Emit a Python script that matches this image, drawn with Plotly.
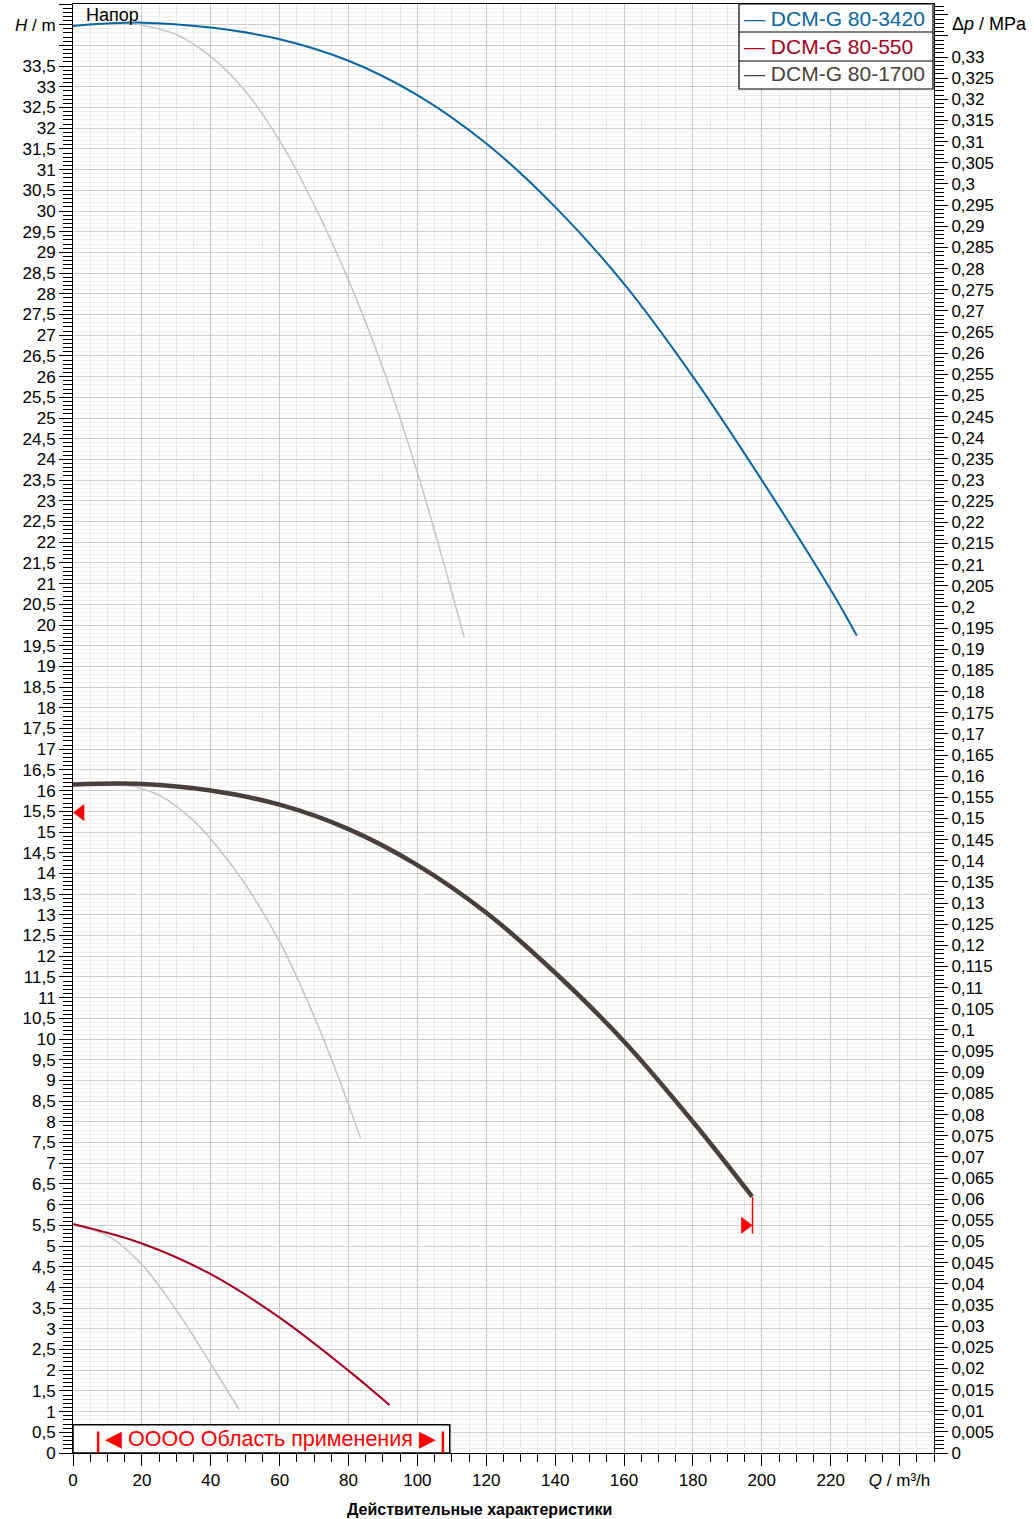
import plotly.graph_objects as go

# ---------------- data ----------------
# DCM-G 80-3420 (blue)
q_3420 = [0, 20, 40, 60, 80, 100, 120, 140, 160, 180, 200, 220, 227.6]
h_3420 = [34.47, 34.55, 34.43, 34.15, 33.63, 32.8, 31.63, 30.1, 28.24, 26.0, 23.5, 20.85, 19.74]
# grey companion of 80-3420
q_3420g = [19.4, 30, 40, 50, 60, 70, 80, 90, 100, 108.3, 113.6]
h_3420g = [34.5, 34.26, 33.73, 32.9, 31.7, 30.15, 28.33, 26.2, 23.68, 21.3, 19.7]

# DCM-G 80-1700 (brown, thick)
q_1700 = [0, 20, 40, 60, 80, 100, 120, 140, 160, 180, 197.2]
h_1700 = [16.15, 16.16, 16.0, 15.66, 15.07, 14.2, 13.05, 11.6, 9.94, 8.0, 6.19]
q_1700g = [15.6, 25.2, 34.9, 41.7, 50, 60, 70, 77.5, 83.5]
h_1700g = [16.14, 15.88, 15.28, 14.66, 13.74, 12.35, 10.55, 8.98, 7.6]

# DCM-G 80-550 (red)
q_550 = [0, 20, 40, 60, 80, 91.9]
h_550 = [5.53, 5.06, 4.32, 3.27, 1.99, 1.16]
q_550g = [0, 10, 20, 30, 40, 48.2]
h_550g = [5.51, 5.25, 4.55, 3.45, 2.15, 1.05]

# operating-point markers
q_mark_left, h_mark_left = [2.2], [15.47]
q_mark_right, h_mark_right = [195.1], [5.5]
q_duty_line, h_duty_line = [197.3, 197.3], [6.18, 5.3]

# application range
app_q_min, app_q_max = 7.3, 107.4
app_box_q, app_box_h = 109.4, 0.68

# axes
x_ticks = list(range(0, 241, 20))
x_ticktext = [str(v) for v in x_ticks[:-1]] + ["<i>Q</i> / m³/h"]
h_ticks = [i * 0.5 for i in range(71)]
MPA_PER_M = 0.009787
p_ticks = [round(i * 0.005, 3) for i in range(69)]

names = ["DCM-G 80-3420", "DCM-G 80-550", "DCM-G 80-1700"]
C_BLUE, C_RED, C_BROWN, C_GREY = "#0a66a0", "#a50021", "#4a3f3a", "#c4c4c4"


def fmt(v, nd):
    s = f"{v:.{nd}f}".rstrip("0").rstrip(".")
    return s.replace(".", ",")


h_ticktext = []
for v in h_ticks:
    if abs(v - 34.5) < 1e-9:
        h_ticktext.append("<i>H</i> / m")
    elif v > 33.6:
        h_ticktext.append("")
    else:
        h_ticktext.append(fmt(v, 1))
p_ticktext = [fmt(v, 3) if v < 0.3325 else "" for v in p_ticks]

FONT = "Liberation Sans, Arial, sans-serif"

fig = go.Figure()

grey_line = dict(color=C_GREY, width=1.5)
for qq, hh in ((q_3420g, h_3420g), (q_1700g, h_1700g), (q_550g, h_550g)):
    fig.add_trace(go.Scatter(x=qq, y=hh, mode="lines", line=dict(shape="spline", smoothing=1.0, **grey_line),
                             showlegend=False, hoverinfo="skip"))

fig.add_trace(go.Scatter(x=q_3420, y=h_3420, mode="lines", name=names[0],
                         line=dict(color=C_BLUE, width=2, shape="spline", smoothing=1.0), showlegend=False))
fig.add_trace(go.Scatter(x=q_550, y=h_550, mode="lines", name=names[1],
                         line=dict(color=C_RED, width=2, shape="spline", smoothing=1.0), showlegend=False))
fig.add_trace(go.Scatter(x=q_1700, y=h_1700, mode="lines", name=names[2],
                         line=dict(color=C_BROWN, width=4.5, shape="spline", smoothing=1.0), showlegend=False))

fig.add_trace(go.Scatter(x=q_duty_line, y=h_duty_line, mode="lines",
                         line=dict(color="#ff0000", width=1.5), showlegend=False, hoverinfo="skip"))
fig.add_trace(go.Scatter(x=q_mark_left, y=h_mark_left, mode="markers",
                         marker=dict(symbol="triangle-left", size=15, color="#ff0000"),
                         showlegend=False, cliponaxis=False))
fig.add_trace(go.Scatter(x=q_mark_right, y=h_mark_right, mode="markers",
                         marker=dict(symbol="triangle-right", size=15, color="#ff0000"),
                         showlegend=False))

# dummy trace for right axis
fig.add_trace(go.Scatter(x=[0], y=[0], yaxis="y2", mode="markers", marker=dict(opacity=0),
                         showlegend=False, hoverinfo="skip"))

shapes = []
# application range box
shapes.append(dict(type="rect", xref="x", yref="y", x0=0, x1=app_box_q, y0=0, y1=app_box_h,
                   fillcolor="white", line=dict(color="black", width=1.5), layer="above"))
for qv in (app_q_min, app_q_max):
    shapes.append(dict(type="line", xref="x", yref="y", x0=qv, x1=qv, y0=0, y1=0.52,
                       line=dict(color="#ff0000", width=2.5), layer="above"))


def px_x(px):
    return (px - 73) / 861.0


def px_y(py):
    return (1453 - py) / 1449.0


# custom legend
shapes.append(dict(type="rect", xref="paper", yref="paper", x0=px_x(739), x1=px_x(933),
                   y0=px_y(89), y1=px_y(4), fillcolor="white",
                   line=dict(color="black", width=1.2), layer="above"))
for sep in (32, 61):
    shapes.append(dict(type="line", xref="paper", yref="paper", x0=px_x(739), x1=px_x(933),
                       y0=px_y(sep), y1=px_y(sep), line=dict(color="black", width=1.2), layer="above"))

annotations = []
for name, col, cy in zip(names, [C_BLUE, C_RED, C_BROWN], [18, 46, 74]):
    annotations.append(dict(xref="paper", yref="paper", x=px_x(742), y=px_y(cy),
                            xanchor="left", yanchor="middle", showarrow=False,
                            text="— " + name, font=dict(size=21, color=col, family=FONT)))

annotations.append(dict(xref="paper", yref="paper", x=px_x(84), y=px_y(15), xanchor="left",
                        yanchor="middle", showarrow=False, text="Напор",
                        font=dict(size=18, color="black", family=FONT)))
annotations.append(dict(xref="paper", yref="paper", x=px_x(950), y=px_y(24), xanchor="left",
                        yanchor="middle", showarrow=False, text="Δ<i>p</i> / MPa",
                        font=dict(size=18, color="black", family=FONT)))
annotations.append(dict(xref="paper", yref="paper", x=px_x(479), y=px_y(1509), xanchor="center",
                        yanchor="middle", showarrow=False, text="<b>Действительные характеристики</b>",
                        font=dict(size=16, color="black", family=FONT)))
annotations.append(dict(xref="x", yref="y", x=(app_q_min + app_q_max) / 2, y=0.34,
                        xanchor="center", yanchor="middle", showarrow=False,
                        text="◀ OOOO Область применения ▶",
                        font=dict(size=21.5, color="#ff0000", family=FONT)))

fig.update_layout(
    width=1034, height=1519, autosize=False,
    margin=dict(l=73, r=100, t=4, b=66),
    paper_bgcolor="white", plot_bgcolor="white",
    font=dict(family=FONT, size=17, color="black"),
    showlegend=False,
    shapes=shapes, annotations=annotations,
    xaxis=dict(
        range=[0, 250], tickmode="array", tickvals=x_ticks, ticktext=x_ticktext,
        ticks="outside", ticklen=12, tickcolor="black", tickwidth=1,
        showline=True, linecolor="black", linewidth=1, mirror=True,
        showgrid=True, gridcolor="#c6c6c6", gridwidth=1, zeroline=False,
        tickfont=dict(size=17),
        minor=dict(tickmode="linear", tick0=0, dtick=5, ticks="outside", ticklen=8,
                   tickcolor="black", showgrid=True, gridcolor="#e8e8e8", gridwidth=1),
    ),
    yaxis=dict(
        range=[0, 35], tickmode="array", tickvals=h_ticks, ticktext=h_ticktext,
        ticks="outside", ticklen=13, tickcolor="black", tickwidth=1,
        showline=True, linecolor="black", linewidth=1,
        showgrid=True, gridcolor="#cdcdcd", gridwidth=1, zeroline=False,
        tickfont=dict(size=17),
        minor=dict(tickmode="linear", tick0=0, dtick=0.1, ticks="outside", ticklen=9,
                   tickcolor="black", showgrid=True, gridcolor="#f0efed", gridwidth=1),
    ),
    yaxis2=dict(
        overlaying="y", side="right", range=[0, 35 * MPA_PER_M],
        tickmode="array", tickvals=p_ticks, ticktext=p_ticktext,
        ticks="outside", ticklen=13, tickcolor="black", tickwidth=1,
        showline=True, linecolor="black", linewidth=1,
        showgrid=False, zeroline=False, tickfont=dict(size=17),
        minor=dict(tickmode="linear", tick0=0, dtick=0.001, ticks="outside", ticklen=9,
                   tickcolor="black", showgrid=False),
    ),
)

fig.write_html("out.html", config={"displayModeBar": False},
               post_script="document.body.style.margin='0px';")
